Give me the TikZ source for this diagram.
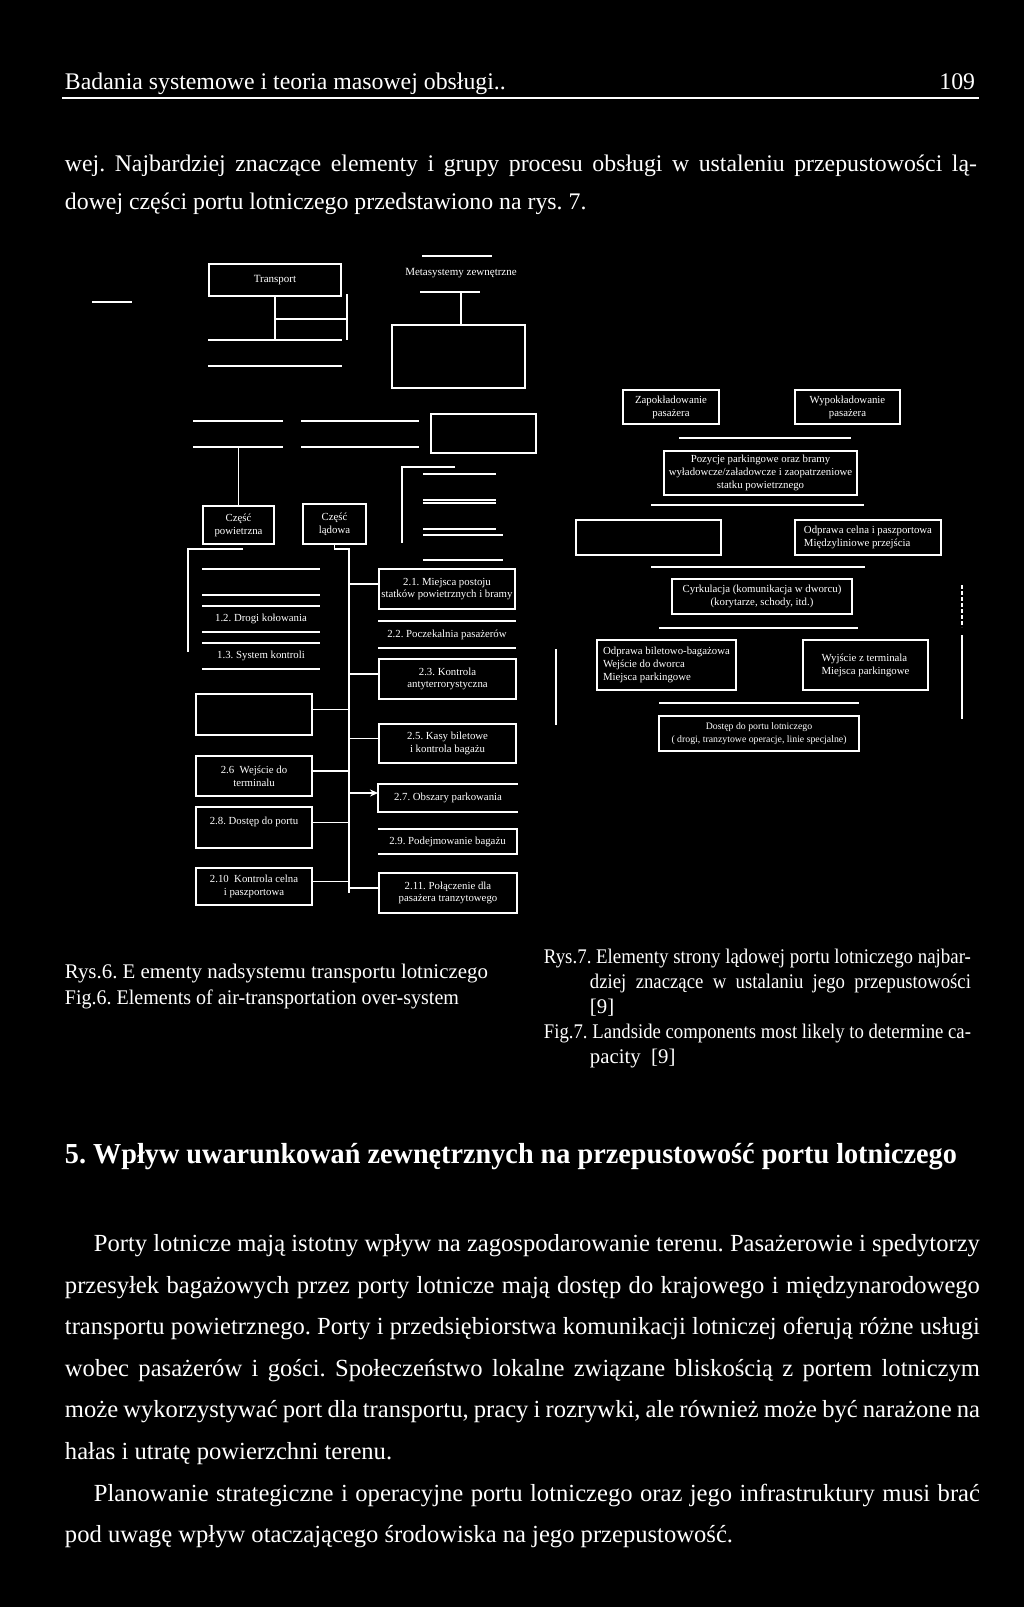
\documentclass[tikz,border=0pt]{standalone}
\usepackage{graphicx}
\usepackage{fontspec}
\setmainfont{Liberation Serif}
\usetikzlibrary{arrows.meta}
\frenchspacing

\newcommand\boxfont{\fontsize{5.4}{6.4}\selectfont}
\newcommand\topfont{\fontsize{11.9}{14}\selectfont}
\newcommand\capfont{\fontsize{10.4}{12.5}\selectfont}
\newcommand\parfont{\fontsize{12.3}{15}\selectfont}
\newcommand\jline[2]{\makebox[#1][s]{#2}}
\newcommand\fitline[2]{\resizebox{#1}{\height}{#2}}

\begin{document}
\begin{tikzpicture}[
  x=0.5pt, y=-0.5pt, color=white, line width=0.95pt,
  box/.style={draw, align=center, inner sep=1pt, font=\boxfont},
  obox/.style={box, draw=none},
  wh/.style 2 args={minimum width=#1*0.5pt, minimum height=#2*0.5pt},
  txt/.style={anchor=base west, inner sep=0pt},
  arr/.style={-{Stealth[length=4pt, width=3.5pt]}}
]
\useasboundingbox (0,0) rectangle (1024,1607);
\fill[black] (0,0) rectangle (1024,1607);

% running head and text above the figures
\node[txt, font=\topfont] (hdr) at (64,89) {Badania systemowe i teoria masowej obsługi..};
\node[txt, anchor=base east, font=\topfont] (pnum) at (976,89) {109};
\draw[line width=0.6pt] (62,98) -- (979,98);
\node[txt, font=\topfont] (ln1) at (64,171) {\jline{456pt}{wej. Najbardziej znaczące elementy i grupy procesu obsługi w ustaleniu przepustowości lą-}};
\node[txt, font=\topfont] (ln2) at (64,209) {dowej części portu lotniczego przedstawiono na rys. 7.};

% Rys. 6
\node[box, wh={132}{32}, font=\fontsize{5.5}{6.5}\selectfont] (transport) at (275,280) {Transport};
\node[obox, wh={132}{24}] (tra) at (275,353) {};
\coordinate (tbr) at (347,294);
\path (transport.south) ++(0,22) coordinate (tmid);
\draw (transport) -- (tra);
\draw (tbr) -- (tbr |- tra.north);
\draw (tmid) -- (tmid -| tbr);

\node[obox, font=\fontsize{5.5}{6.5}\selectfont] (meta) at (461,273) {Metasystemy zewnętrzne};
\node[box, wh={133}{63}] (metabox) at (458.5,356.5) {};
\coordinate (metalow) at (461,292);
\draw (metalow) -- (metalow |- metabox.north);

\node[obox, wh={88}{24}] (nA) at (238,434) {};
\node[obox, wh={116}{24}] (nB) at (360,434) {};
\node[box, wh={105}{39}] (nC) at (483.5,433.5) {};
\node[box, wh={71}{38}] (czpow) at (238.5,525) {Część\\powietrzna};
\node[box, wh={63}{40}] (czlad) at (334.5,524) {Część\\lądowa};
\draw (czpow.north |- nA.south) -- (czpow.north);

\node[obox, wh={71}{24}] (oA) at (459.5,487) {};
\node[obox, wh={71}{24}] (oB) at (459.5,516) {};
\node[obox, wh={78}{23}] (oC) at (463,547.5) {};
\coordinate (brA) at (402,467);
\draw (455,467) -- (brA) -- (402,543);

% Rys. 7, left part
\node[obox, wh={116}{24}] (o11) at (261,582) {};
\node[obox, wh={116}{24}] (o12) at (261,619) {1.2. Drogi kołowania};
\node[obox, wh={116}{24}] (o13) at (261,656) {1.3. System kontroli};
\coordinate (brB) at (188,549);
\draw (243,549) -- (brB) -- (188,652);

\node[box, wh={136}{40}] (m21) at (447,589) {2.1. Miejsca postoju\\statków powietrznych i bramy};
\node[obox, wh={136}{25}] (m22) at (447,634.5) {2.2. Poczekalnia pasażerów};
\node[box, wh={137}{40}] (m23) at (447.5,679) {2.3. Kontrola\\antyterrorystyczna};
\node[box, wh={116}{41}] (m24) at (254,714.5) {};
\node[box, wh={137}{39}] (m25) at (447.5,743.5) {2.5. Kasy biletowe\\i kontrola bagażu};
\node[box, wh={116}{40}] (m26) at (254,776) {2.6\ \ Wejście do\\terminalu};
\node[obox, wh={138}{26}] (m27) at (448,798) {2.7. Obszary parkowania};
\node[box, wh={116}{41}] (m28) at (254,827.5) {2.8. Dostęp do portu\\\mbox{}};
\node[obox, wh={137}{23}] (m29) at (447.5,841.5) {2.9. Podejmowanie bagażu};
\node[box, wh={116}{37}] (m210) at (254,886.5) {2.10\ \ Kontrola celna\\i paszportowa};
\node[box, wh={138}{40}] (m211) at (448,893) {2.11. Połączenie dla\\pasażera tranzytowego};
\draw (m27.north east) -- (m27.north west) -- (m27.south west) -- (m27.south east);
\draw (m29.north west) -- (m29.north east) -- (m29.south east) -- (m29.south west);

\coordinate (trtop) at (349,549);
\coordinate (trbot) at (349,893);
\draw (czlad.south) |- (trtop) -- (trbot);
\foreach \n in {m21,m23,m25,m211} {
  \path ([yshift=2.5pt]\n.west) coordinate (b\n);
  \draw (b\n) -- (b\n -| trtop);
}
\foreach \n in {m24,m26,m28,m210} {
  \path ([yshift=2.5pt]\n.east) coordinate (b\n);
  \draw (b\n) -- (b\n -| trtop);
}
\path ([yshift=2.5pt]m27.west) coordinate (bm27);
\draw[arr] (bm27 -| trtop) -- (bm27);

% Rys. 7, right part
\node[box, wh={96}{34}] (zapok) at (671,407) {Zapokładowanie\\pasażera};
\node[box, wh={105}{34}] (wypok) at (847.5,407) {Wypokładowanie\\pasażera};
\node[box, wh={193}{44}] (pozyc) at (760.5,473) {Pozycje parkingowe oraz bramy\\wyładowcze/załadowcze i zaopatrzeniowe\\statku powietrznego};
\node[box, wh={145}{35}] (blankR) at (648.5,537.5) {};
\node[box, wh={146}{35}, align=left] (odcel) at (868,537.5) {Odprawa celna i paszportowa\\Międzyliniowe przejścia};
\node[box, wh={180}{35}] (cyrk) at (762,596.5) {Cyrkulacja (komunikacja w dworcu)\\(korytarze, schody, itd.)};
\node[box, wh={139}{50}, align=left] (odbil) at (666.5,665) {Odprawa biletowo-bagażowa\\Wejście do dworca\\Miejsca parkingowe};
\node[box, wh={125}{50}, align=left] (wyjsc) at (865.5,665) {Wyjście z terminala\\Miejsca parkingowe};
\node[box, wh={200}{35}, font=\fontsize{4.9}{6.4}\selectfont] (dostep) at (759,733.5) {Dostęp do portu lotniczego\\( drogi, tranzytowe operacje, linie specjalne)};

% loose rules and open boxes
\foreach \xa/\xb/\y in {92/132/302, 422/492/256, 420/480/292, 679/851/438,
    651/864/505, 651/865/567, 659/858/628, 659/859/703}
  \draw (\xa,\y) -- (\xb,\y);
\foreach \n in {tra,nA,nB,oA,oB,oC,o11,o12,o13,m22}
  \draw (\n.north west) -- (\n.north east) (\n.south west) -- (\n.south east);
\draw (556,649) -- (556,725);
\draw (962,635) -- (962,719);
\draw[dash pattern=on 2pt off 1pt] (962,585) -- (962,627);

% captions
\node[txt, font=\capfont] (cap6a) at (64,978) {\fitline{211.5pt}{Rys.6. E ementy nadsystemu transportu lotniczego}};
\node[txt, font=\capfont] (cap6b) at (64,1004) {\fitline{197pt}{Fig.6. Elements of air-transportation over-system}};
\node[txt, font=\capfont] (cap7a) at (543,963) {\fitline{213.5pt}{Rys.7. Elementy strony lądowej portu lotniczego najbar-}};
\node[txt, font=\capfont] (cap7b) at (589,988) {\fitline{190.5pt}{dziej\ \ znaczące\ \ w\ \ ustalaniu\ \ jego\ \ przepustowości}};
\node[txt, font=\capfont] (cap7c) at (589,1013) {[9]};
\node[txt, font=\capfont] (cap7d) at (543,1038) {\fitline{213.5pt}{Fig.7. Landside components most likely to determine ca-}};
\node[txt, font=\capfont] (cap7e) at (589,1063) {pacity\ \ [9]};

% section 5
\node[txt, font=\fontsize{14.5}{17}\selectfont\bfseries] (head5) at (64,1163) {\fitline{446pt}{5. Wpływ uwarunkowań zewnętrznych na przepustowość portu lotniczego}};
\node[txt, font=\parfont] (par1) at (93,1251) {\jline{443pt}{Porty lotnicze mają istotny wpływ na zagospodarowanie terenu. Pasażerowie i spedytorzy}};
\node[txt, font=\parfont] (par2) at (64,1293) {\jline{457.5pt}{przesyłek bagażowych przez porty lotnicze mają dostęp do krajowego i międzynarodowego}};
\node[txt, font=\parfont] (par3) at (64,1334) {\jline{457.5pt}{transportu powietrznego. Porty i przedsiębiorstwa komunikacji lotniczej oferują różne usługi}};
\node[txt, font=\parfont] (par4) at (64,1376) {\jline{457.5pt}{wobec pasażerów i gości. Społeczeństwo lokalne związane bliskością z portem lotniczym}};
\node[txt, font=\parfont] (par5) at (64,1417) {\jline{457.5pt}{może wykorzystywać port dla transportu, pracy i rozrywki, ale również może być narażone na}};
\node[txt, font=\parfont] (par6) at (64,1459) {hałas i utratę powierzchni terenu.};
\node[txt, font=\parfont] (par7) at (93,1501) {\jline{443pt}{Planowanie strategiczne i operacyjne portu lotniczego oraz jego infrastruktury musi brać}};
\node[txt, font=\parfont] (par8) at (64,1542) {pod uwagę wpływ otaczającego środowiska na jego przepustowość.};
\end{tikzpicture}
\end{document}
